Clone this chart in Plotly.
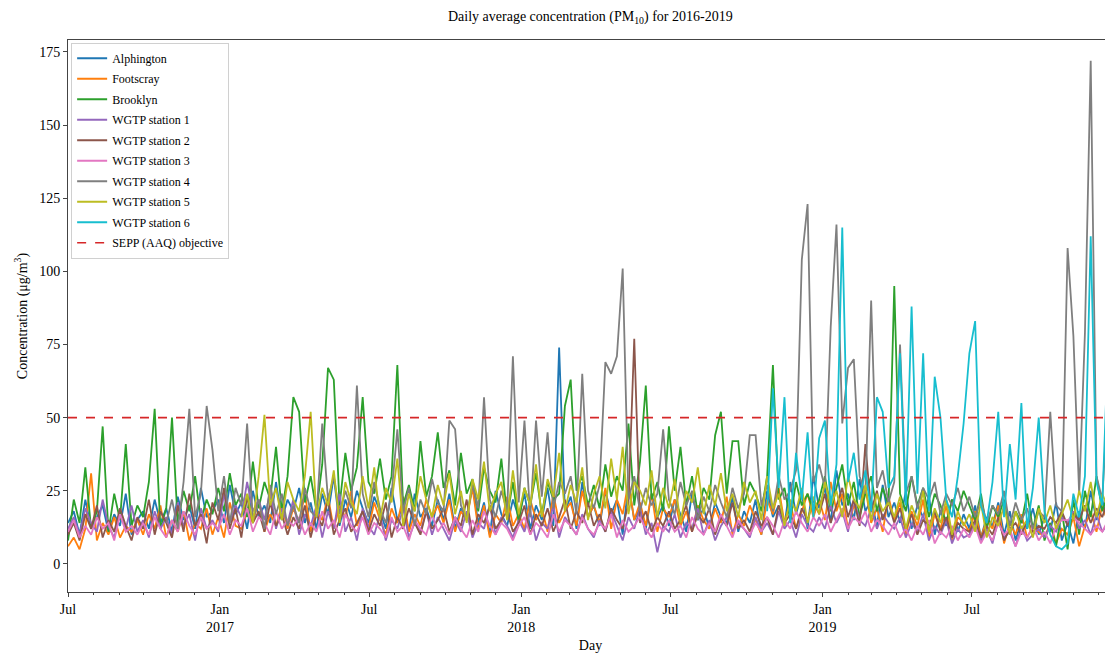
import pandas as pd
import plotly.graph_objects as go

# weekly readings (µg/m³)
start_day = '2016-07-01'
n_weeks = 182

alphington = [
    14, 18, 10, 22, 12, 16, 20, 11, 17, 13, 24, 10, 15,
    18, 12, 22, 14, 19, 11, 23, 15, 20, 12, 26, 16, 18,
    22, 14, 27, 17, 21, 12, 25, 16, 20, 14, 28, 15, 22,
    18, 26, 14, 21, 12, 24, 17, 30, 13, 22, 16, 25, 19,
    14, 23, 18, 12, 26, 15, 20, 11, 24, 16, 19, 13, 22,
    15, 24, 12, 19, 16, 27, 14, 21, 10, 25, 17, 13, 22,
    16, 24, 12, 20, 15, 26, 13, 74, 18, 23, 12, 28, 16,
    20, 13, 25, 17, 22, 10, 27, 15, 19, 12, 24, 16, 20,
    13, 22, 17, 11, 24, 15, 19, 12, 21, 16, 14, 23, 11,
    18, 14, 22, 10, 25, 16, 20, 13, 28, 17, 24, 12, 30,
    19, 26, 14, 32, 20, 24, 15, 29, 18, 22, 13, 27, 16,
    21, 14, 25, 12, 20, 16, 23, 10, 18, 13, 22, 11, 17,
    12, 20, 9, 16, 13, 21, 10, 18, 8, 15, 12, 19, 10,
    16, 11, 21, 8, 14, 7, 18, 12, 25, 15, 22, 13, 19,
]
footscray = [
    6, 9, 5, 12, 31, 8, 14, 10, 16, 9, 13, 11, 15,
    10, 17, 12, 20, 9, 15, 11, 18, 8, 14, 12, 19, 10,
    16, 9, 21, 13, 12, 18, 14, 22, 11, 17, 13, 20, 12,
    19, 14, 24, 11, 18, 15, 23, 12, 20, 16, 25, 13, 18,
    12, 21, 15, 10, 19, 14, 23, 11, 17, 13, 22, 16, 20,
    14, 22, 11, 18, 15, 26, 12, 20, 9, 17, 14, 23, 13,
    17, 12, 22, 15, 19, 11, 24, 14, 18, 21, 13, 25, 16,
    20, 14, 26, 12, 22, 17, 28, 15, 21, 13, 24, 11, 19,
    16, 22, 13, 18, 11, 20, 15, 12, 19, 14, 23, 10, 17,
    13, 20, 15, 10, 22, 17, 26, 14, 21, 12, 18, 24, 16,
    22, 15, 28, 18, 24, 12, 20, 16, 26, 14, 19, 11, 23,
    15, 21, 10, 18, 13, 22, 9, 17, 12, 20, 8, 16, 14,
    11, 18, 9, 15, 12, 20, 7, 14, 10, 17, 9, 13, 11,
    9, 14, 7, 12, 10, 16, 6, 13, 18, 11, 20, 14, 17,
]
brooklyn = [
    8, 22, 14, 33, 12, 18, 47, 11, 24, 15, 41, 13, 20,
    16, 28, 53, 12, 19, 50, 14, 25, 18, 30, 15, 22, 17,
    26, 18, 31, 20, 24, 16, 35, 19, 28, 22, 40, 18, 30,
    57, 52, 21, 30, 18, 34, 67, 63, 20, 38, 25, 33, 57,
    28, 24, 36, 22, 30, 68, 20, 27, 18, 42, 23, 30, 45,
    26, 32, 20, 38, 24, 29, 18, 33, 25, 21, 36, 16, 28,
    14, 26, 20, 31, 17, 28, 22, 24, 54, 63, 25, 30, 20,
    27, 19, 34, 23, 30, 25, 48, 20, 35, 61, 22, 28, 18,
    47, 25, 40, 20, 30, 17, 26, 22, 44, 52, 24, 42, 42,
    20, 28, 24, 18, 30, 68, 22, 26, 15, 28, 20, 24, 18,
    22, 30, 18, 26, 34, 20, 28, 16, 24, 30, 18, 26, 20,
    95, 24, 18, 30, 20, 26, 16, 24, 20, 14, 22, 18, 25,
    20, 15, 24, 12, 20, 16, 22, 10, 18, 14, 24, 12, 20,
    8, 14, 6, 18, 5, 22, 10, 25, 16, 30, 18, 24, 20,
]
wgtp1 = [
    12, 16, 10, 19, 14, 11, 22, 13, 9, 17, 12, 20, 11,
    15, 9, 18, 12, 16, 10, 21, 13, 17, 8, 19, 12, 15,
    11, 24, 14, 20, 16, 28, 18, 22, 15, 25, 12, 19, 14,
    22, 10, 17, 13, 20, 9, 18, 12, 24, 11, 16, 8, 19,
    13, 10, 17, 8, 15, 12, 19, 9, 14, 11, 18, 10, 16,
    12, 8, 15, 11, 18, 9, 14, 12, 20, 10, 16, 13, 9,
    15, 11, 18, 8, 14, 12, 20, 9, 16, 13, 10, 17, 12,
    9, 15, 11, 18, 13, 8, 16, 12, 19, 10, 14, 4, 13,
    11, 17, 9, 14, 12, 19, 10, 15, 8, 13, 16, 11, 14,
    12, 9, 16, 11, 14, 10, 18, 12, 15, 9, 17, 13, 11,
    16, 12, 20, 14, 18, 11, 22, 15, 13, 19, 12, 17, 14,
    12, 16, 9, 14, 11, 17, 8, 13, 10, 15, 7, 12, 9,
    10, 14, 8, 12, 7, 15, 9, 11, 6, 13, 8, 10, 12,
    9, 13, 11, 16, 14, 18, 12, 15, 10, 17, 11, 14, 12,
]
wgtp2 = [
    10, 14, 8, 17, 12, 20, 9, 15, 11, 19, 13, 8, 16,
    12, 22, 10, 18, 14, 9, 20, 11, 24, 13, 17, 7, 21,
    15, 26, 12, 19, 9, 23, 14, 18, 11, 21, 13, 17, 10,
    16, 12, 20, 9, 17, 13, 22, 10, 15, 19, 11, 14, 18,
    11, 17, 13, 21, 9, 16, 12, 19, 14, 10, 18, 12, 15,
    19, 11, 16, 13, 22, 10, 17, 14, 20, 12, 15, 18, 11,
    14, 20, 10, 17, 13, 19, 11, 16, 22, 12, 18, 14, 21,
    13, 17, 11, 19, 15, 12, 21, 77, 14, 18, 11, 16, 13,
    18, 12, 15, 20, 11, 17, 14, 19, 10, 16, 13, 21, 12,
    15, 11, 18, 13, 16, 10, 20, 14, 17, 12, 19, 15, 22,
    17, 24, 14, 20, 26, 16, 22, 13, 41, 18, 25, 15, 21,
    14, 19, 12, 17, 10, 15, 13, 18, 11, 16, 9, 14, 12,
    11, 15, 9, 13, 10, 16, 8, 12, 14, 10, 15, 11, 13,
    12, 16, 14, 18, 13, 17, 15, 20, 14, 19, 16, 22, 18,
]
wgtp3 = [
    11, 15, 9, 13, 10, 16, 12, 14, 8, 17, 11, 13, 10,
    14, 10, 16, 12, 9, 15, 11, 18, 13, 10, 16, 12, 14,
    12, 17, 10, 15, 13, 19, 11, 16, 14, 10, 18, 12, 15,
    13, 16, 10, 14, 11, 18, 12, 15, 9, 17, 13, 11, 16,
    10, 14, 12, 9, 16, 11, 13, 8, 15, 12, 10, 17, 11,
    14, 10, 16, 12, 9, 15, 11, 18, 13, 10, 14, 12, 8,
    13, 16, 10, 14, 12, 9, 17, 11, 15, 13, 10, 16, 12,
    10, 14, 12, 17, 9, 15, 11, 13, 16, 12, 9, 14, 11,
    15, 11, 13, 9, 16, 12, 10, 14, 11, 17, 13, 9, 15,
    12, 10, 14, 11, 16, 13, 9, 15, 12, 18, 14, 11, 16,
    13, 17, 11, 15, 19, 12, 16, 14, 18, 11, 15, 13, 10,
    14, 9, 12, 8, 13, 10, 15, 7, 11, 9, 13, 8, 12,
    9, 13, 7, 11, 8, 14, 10, 12, 6, 11, 9, 13, 8,
    11, 7, 13, 15, 15, 16, 14, 12, 10, 13, 11, 15, 12,
]
wgtp4 = [
    None, None, None, None, None, None, None, None, None, None, None, None, None,
    None, None, None, None, 14, 22, 12, 28, 53, 16, 24, 54, 39,
    18, 30, 14, 26, 20, 48, 15, 22, 12, 27, 17, 24, 13,
    20, 14, 26, 18, 16, 48, 22, 30, 17, 25, 19, 61, 24,
    16, 28, 19, 14, 24, 46, 18, 26, 13, 22, 17, 29, 21,
    18, 49, 46, 20, 15, 27, 19, 57, 22, 16, 25, 18, 71,
    21, 49, 16, 49, 23, 45, 19, 28, 24, 30, 17, 65, 25,
    19, 27, 69, 65, 71, 101, 22, 30, 18, 26, 20, 24, 46,
    22, 17, 28, 20, 25, 15, 23, 18, 27, 21, 16, 26, 19,
    24, 44, 44, 20, 27, 18, 30, 22, 25, 32, 104, 123, 28,
    34, 26, 81, 116, 48, 67, 70, 30, 24, 90, 26, 32, 21,
    28, 75, 24, 30, 19, 26, 22, 28, 17, 24, 20, 26, 18,
    23, 16, 22, 14, 20, 17, 25, 13, 21, 15, 19, 12, 18,
    16, 52, 20, 18, 108, 78, 24, 79, 172, 30, 22, 58, 26,
]
wgtp5 = [
    None, None, None, None, None, None, None, None, None, None, None, None, None,
    None, None, None, None, None, None, None, None, None, None, None, None, None,
    None, None, None, None, 16, 24, 14, 30, 51, 20, 26, 15, 28,
    22, 18, 30, 52, 16, 26, 20, 32, 14, 28, 21, 17, 30,
    19, 33, 15, 26, 21, 36, 13, 24, 18, 30, 22, 16, 27,
    20, 31, 17, 25, 14, 29, 22, 35, 18, 24, 28, 15, 32,
    17, 26, 20, 34, 16, 29, 23, 38, 18, 27, 21, 33, 15,
    24, 30, 19, 36, 22, 40, 17, 28, 25, 20, 32, 16, 26,
    19, 29, 14, 25, 21, 33, 17, 27, 20, 31, 18, 24, 16,
    28, 21, 25, 15, 30, 19, 24, 13, 22, 18, 26, 14, 23,
    17, 28, 20, 25, 16, 30, 22, 19, 27, 15, 24, 18, 21,
    16, 23, 12, 20, 15, 25, 11, 19, 14, 22, 10, 18, 13,
    17, 11, 21, 9, 16, 13, 20, 10, 18, 12, 15, 9, 19,
    14, 20, 12, 17, 22, 15, 25, 18, 28, 16, 24, 19, 21,
]
wgtp6 = [None] * 121 + [
    18, 60, 26, 57, 14, 38, 22, 45, 16,
    43, 49, 20, 34, 115, 28, 38, 22, 32, 18, 57, 52, 26,
    30, 72, 20, 88, 24, 72, 18, 64, 50, 22, 16, 30, 48,
    72, 83, 20, 14, 28, 52, 16, 41, 22, 55, 12, 26, 50,
    18, 10, 6, 5, 7, 24, 16, 30, 112, 28, 20, 75, 32,
]

station_names = ['Alphington', 'Footscray', 'Brooklyn', 'WGTP station 1',
                 'WGTP station 2', 'WGTP station 3', 'WGTP station 4',
                 'WGTP station 5', 'WGTP station 6']
station_values = [alphington, footscray, brooklyn, wgtp1, wgtp2, wgtp3,
                  wgtp4, wgtp5, wgtp6]
station_colors = ['#1f77b4', '#ff7f0e', '#2ca02c', '#9467bd', '#8c564b',
                  '#e377c2', '#7f7f7f', '#bcbd22', '#17becf']

objective = 50

tick_dates = ['2016-07-01', '2017-01-01', '2017-07-01', '2018-01-01',
              '2018-07-01', '2019-01-01', '2019-07-01']
tick_text = ['Jul', 'Jan<br>2017', 'Jul', 'Jan<br>2018', 'Jul',
             'Jan<br>2019', 'Jul']

days = pd.date_range(start_day, periods=n_weeks, freq='7D')

fig = go.Figure()

for name, values, color in zip(station_names, station_values, station_colors):
    fig.add_trace(go.Scatter(
        x=days,
        y=values,
        mode='lines',
        name=name,
        legendgroup=name,
        line=dict(color=color, width=1.8)
    ))

fig.add_trace(go.Scatter(
    x=[days[0], days[-1]],
    y=[objective, objective],
    mode='lines',
    name='SEPP (AAQ) objective',
    legendgroup='objective',
    line=dict(color='#d62728', width=1.6, dash='dash')
))

serif = 'Liberation Serif, Times New Roman, serif'

# the page body adds an 8px margin, so the figure is sized to fit inside it
fig.update_layout(
    width=1105,
    height=645,
    margin=dict(l=60, r=0, t=32, b=61),
    plot_bgcolor='white',
    paper_bgcolor='white',
    font=dict(family=serif, size=14, color='black'),
    title=dict(
        text='Daily average concentration (PM<sub>10</sub>) for 2016-2019',
        x=0.527, xanchor='center', y=0.988, yanchor='middle',
        font=dict(family=serif, size=14, color='black')
    ),
    showlegend=True,
    legend=dict(
        x=0.003, y=0.995, xanchor='left', yanchor='top',
        bgcolor='rgba(255,255,255,0.8)',
        bordercolor='#d0d0d0',
        borderwidth=1,
        font=dict(family=serif, size=12, color='black'),
        tracegroupgap=1.5
    ),
    xaxis=dict(
        range=['2016-07-01', '2019-12-19'],
        automargin=False,
        showgrid=False,
        showline=True,
        linecolor='#444',
        linewidth=1,
        mirror=True,
        ticks='outside',
        ticklen=4,
        tickcolor='#444',
        tickvals=tick_dates,
        ticktext=tick_text,
        minor=dict(dtick='M1', ticks='outside', ticklen=2, tickcolor='#444'),
        title=dict(text='Day', font=dict(family=serif, size=14), standoff=10),
        zeroline=False
    ),
    yaxis=dict(
        range=[-9.6, 179.1],
        automargin=False,
        showgrid=False,
        showline=True,
        linecolor='#444',
        linewidth=1,
        ticks='outside',
        ticklen=4,
        tickcolor='#444',
        tickvals=[0, 25, 50, 75, 100, 125, 150, 175],
        title=dict(text='Concentration (μg/m<sup>3</sup>)',
                   font=dict(family=serif, size=14), standoff=8),
        zeroline=False
    )
)

fig.write_html('out.html')
